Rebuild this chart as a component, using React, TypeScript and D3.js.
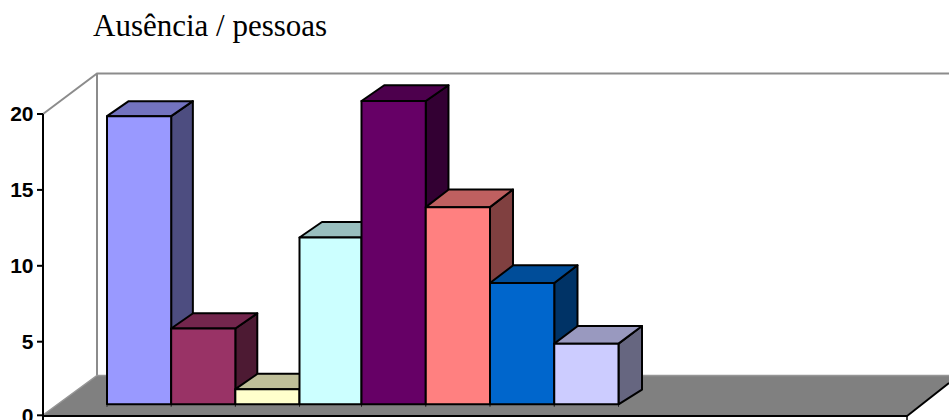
import React from "react";
import * as d3 from "d3";

const categories = ["A", "B", "C", "D", "E", "F", "G", "H"];
const absences = [19, 5, 1, 11, 20, 13, 8, 4];
const fills = ["#9999ff", "#993366", "#ffffcc", "#ccffff", "#660066", "#ff8080", "#0066cc", "#ccccff"];
const tops = ["#7373bf", "#73264d", "#bfbf99", "#99bfbf", "#4d004d", "#bf6060", "#004d99", "#9999bf"];
const sides = ["#4d4d80", "#4d1a33", "#808066", "#668080", "#330033", "#804040", "#003366", "#666680"];
const axisTicks = [0, 5, 10, 15, 20];

// The oblique projection widens slightly towards the right of the chart.
const depthX = d3.scaleLinear().domain([0, 7]).range([21.7, 23.5]);
const depthTop = d3.scaleLinear().domain([0, 4, 5, 7]).range([15, 15.7, 17.7, 17.7]);
const depthBase = 14.7;

const axisScale = d3.scaleLinear().domain([0, 5, 20]).range([415.3, 341.7, 114]);
const barScale = d3.scaleLinear().domain([0, 20]).range([404.3, 101]);
const xScale = d3.scaleLinear().domain([0, 3, 4, 8]).range([107, 299.5, 361.5, 618.5]);

const poly = (pts: [number, number][]) => d3.line()(pts) + "Z";

export default function App() {
  const y0 = barScale(0);
  return (
    <svg
      width={949}
      height={420}
      style={{ position: "fixed", left: 0, top: 0, display: "block", background: "#fff" }}
    >
      <text x={93} y={36} fontFamily="Liberation Serif" fontSize={31} fill="#000">
        Ausência / pessoas
      </text>

      {/* back wall and side wall edges */}
      <path d="M43,114L97,73.5H949" fill="none" stroke="#8c8c8c" strokeWidth={2} />
      <path d="M97,73.5V375" fill="none" stroke="#8c8c8c" strokeWidth={2} />

      {/* floor */}
      <path d={poly([[43, 415], [97, 375.5], [949, 375.5], [949, 383], [907, 415]])} fill="#808080" />
      <path d="M43,415L97,375.5H949" stroke="#969696" strokeWidth={1.5} fill="none" />
      <path d="M43,416H907L949,383" stroke="#000" strokeWidth={2} fill="none" />
      <path d="M907,415V420" stroke="#000" strokeWidth={1.5} fill="none" />

      {/* value axis */}
      <path d="M43,114V420" stroke="#000" strokeWidth={2} fill="none" />
      {axisTicks.map((t) => (
        <g key={t}>
          <line x1={37} x2={43} y1={axisScale(t)} y2={axisScale(t)} stroke="#000" strokeWidth={2} />
          <text
            x={33.5}
            y={axisScale(t) + 7.3}
            textAnchor="end"
            fontFamily="Liberation Sans"
            fontWeight="bold"
            fontSize={21}
            fill="#000"
          >
            {t}
          </text>
        </g>
      ))}

      {/* small ticks under each bar boundary */}
      {d3.range(categories.length + 1).map((i) => (
        <line key={i} x1={xScale(i)} x2={xScale(i)} y1={404} y2={407} stroke="#333" strokeWidth={1} />
      ))}

      {/* bars, each a front, top and side face */}
      {categories.map((c, i) => {
        const x0 = xScale(i);
        const x1 = xScale(i + 1);
        const y1 = barScale(absences[i]);
        const dx = depthX(i);
        const dy = depthTop(i);
        return (
          <g key={c} stroke="#000" strokeWidth={2} strokeLinejoin="round">
            <path
              d={poly([[x1, y1], [x1 + dx, y1 - dy], [x1 + dx, y0 - depthBase], [x1, y0]])}
              fill={sides[i]}
            />
            <path
              d={poly([[x0, y1], [x0 + dx, y1 - dy], [x1 + dx, y1 - dy], [x1, y1]])}
              fill={tops[i]}
            />
            <rect x={x0} y={y1} width={x1 - x0} height={y0 - y1} fill={fills[i]} />
          </g>
        );
      })}
    </svg>
  );
}
